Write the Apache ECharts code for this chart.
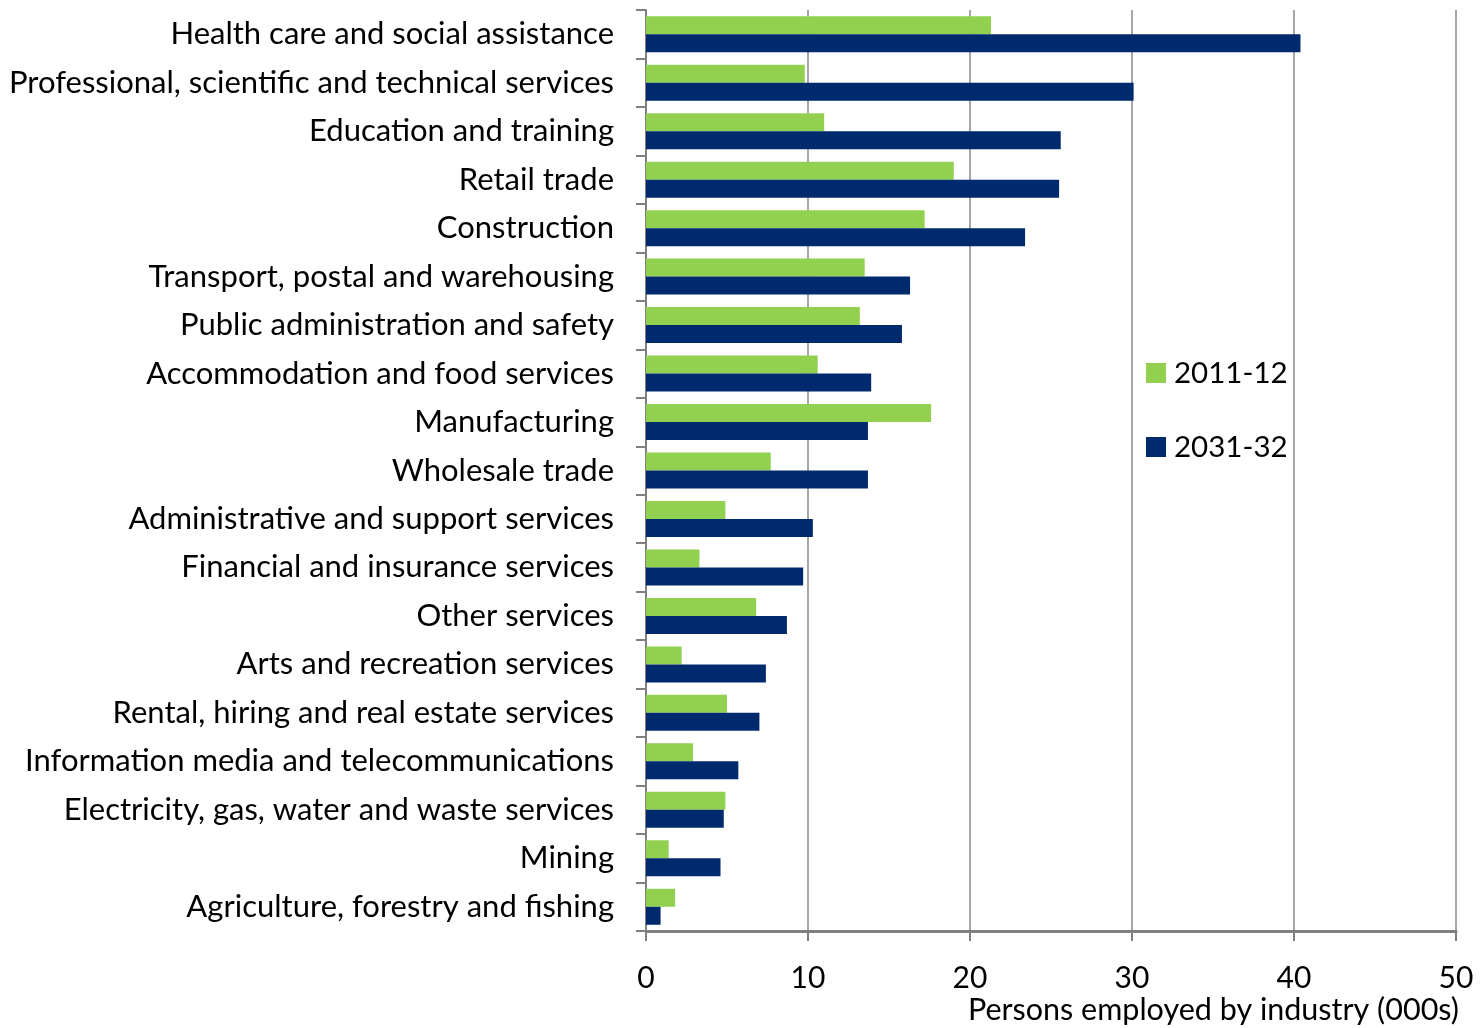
<!DOCTYPE html>
<html>
<head>
<meta charset="utf-8">
<title>Persons employed by industry</title>
<script src="https://cdn.jsdelivr.net/npm/echarts@6/dist/echarts.min.js"></script>
<style>
  html, body { margin: 0; padding: 0; background: #ffffff; }
  #chart { width: 1480px; height: 1028px; }
</style>
</head>
<body>
<div id="chart"></div>
<script>
// Industries, listed top to bottom
const industries = [
  'Health care and social assistance',
  'Professional, scientific and technical services',
  'Education and training',
  'Retail trade',
  'Construction',
  'Transport, postal and warehousing',
  'Public administration and safety',
  'Accommodation and food services',
  'Manufacturing',
  'Wholesale trade',
  'Administrative and support services',
  'Financial and insurance services',
  'Other services',
  'Arts and recreation services',
  'Rental, hiring and real estate services',
  'Information media and telecommunications',
  'Electricity, gas, water and waste services',
  'Mining',
  'Agriculture, forestry and fishing'
];

// Persons employed (000s)
const employed2011 = [21.3, 9.8, 11.0, 19.0, 17.2, 13.5, 13.2, 10.6, 17.6, 7.7, 4.9, 3.3, 6.8, 2.2, 5.0, 2.9, 4.9, 1.4, 1.8];
const employed2031 = [40.4, 30.1, 25.6, 25.5, 23.4, 16.3, 15.8, 13.9, 13.7, 13.7, 10.3, 9.7, 8.7, 7.4, 7.0, 5.7, 4.8, 4.6, 0.9];

const seriesNames = ['2011-12', '2031-32'];
const axisTitle = 'Persons employed by industry (000s)';

const FONT = 'Lato, "Open Sans", sans-serif';
const GREEN = '#92D050';
const NAVY = '#002A6E';

const chart = echarts.init(document.getElementById('chart'), null, { renderer: 'canvas' });

chart.setOption({
  animation: false,
  backgroundColor: '#ffffff',
  textStyle: { fontFamily: FONT, color: '#000' },
  title: {
    text: axisTitle,
    right: 21,
    top: 995,
    padding: 0,
    textStyle: { fontFamily: FONT, fontSize: 30.5, fontWeight: 'normal', color: '#000' }
  },
  legend: {
    orient: 'vertical',
    left: 1146,
    top: 358,
    padding: 0,
    itemWidth: 20,
    itemHeight: 20,
    itemGap: 44,
    icon: 'rect',
    data: seriesNames,
    textStyle: { fontFamily: FONT, fontSize: 29.5, lineHeight: 30, color: '#000', padding: [0, 0, 0, 3] }
  },
  grid: { left: 646, right: 24, top: 10, bottom: 97, containLabel: false },
  xAxis: {
    type: 'value',
    min: 0,
    max: 50,
    interval: 10,
    axisLine: { show: true, lineStyle: { color: '#808080', width: 3 } },
    axisTick: { show: true, length: 10, lineStyle: { color: '#808080', width: 2 } },
    splitLine: { show: true, lineStyle: { color: '#a6a6a6', width: 2 } },
    axisLabel: { fontFamily: FONT, fontSize: 30, color: '#000', margin: 32 }
  },
  yAxis: {
    type: 'category',
    inverse: true,
    data: industries,
    axisLine: { show: true, lineStyle: { color: '#808080', width: 2 } },
    axisTick: { show: true, length: 10, lineStyle: { color: '#808080', width: 2 } },
    axisLabel: { fontFamily: FONT, fontSize: 31, color: '#000', margin: 32, padding: [3, 0, 0, 0] }
  },
  series: [
    {
      name: seriesNames[0],
      type: 'bar',
      data: employed2011,
      barWidth: 18,
      barGap: '0%',
      itemStyle: { color: GREEN }
    },
    {
      name: seriesNames[1],
      type: 'bar',
      data: employed2031,
      barWidth: 18,
      barGap: '0%',
      itemStyle: { color: NAVY }
    }
  ]
});
</script>
</body>
</html>
